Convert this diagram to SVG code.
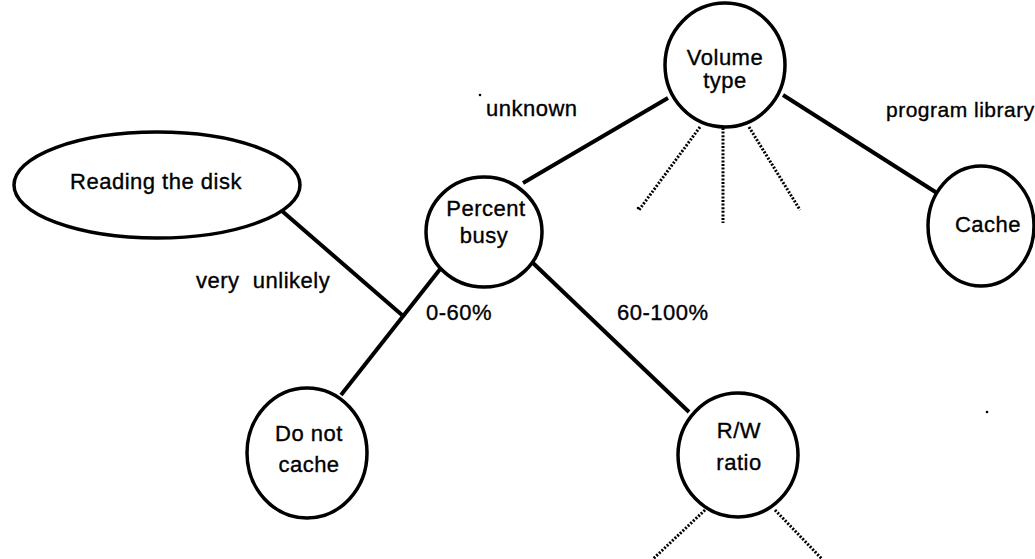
<svg xmlns="http://www.w3.org/2000/svg" width="1035" height="559" viewBox="0 0 1035 559">
<style>
  .node { fill: #fff; stroke: #000; stroke-width: 3.5; }
  .edge { stroke: #000; stroke-width: 4; fill: none; stroke-linecap: butt; }
  .dot { stroke: #000; stroke-width: 3; fill: none; stroke-dasharray: 2 1.6; }
  text { font-family: "Liberation Sans", Arial, sans-serif; font-size: 22px; fill: #000; stroke: #000; stroke-width: 0.35px; letter-spacing: 0.5px; white-space: pre; }
  .c { text-anchor: middle; }
</style>
<rect width="1035" height="559" fill="#fff"/>
<g id="connectors">
  <line class="edge" x1="668" y1="98" x2="523" y2="183"/>
  <line class="edge" x1="783" y1="95" x2="937" y2="193"/>
  <line class="edge" x1="441" y1="268" x2="341" y2="395"/>
  <line class="edge" x1="282" y1="211" x2="402" y2="315"/>
  <line class="edge" x1="533" y1="263" x2="689" y2="412"/>
  <line class="dot" x1="700" y1="127" x2="639" y2="210"/>
  <line class="dot" x1="723" y1="128" x2="723" y2="223"/>
  <line class="dot" x1="749" y1="127" x2="800" y2="210"/>
  <line class="dot" x1="705" y1="510" x2="653" y2="559"/>
  <line class="dot" x1="775" y1="510" x2="822" y2="559"/>
</g>
<g id="labels">
  <text x="486" y="116">unknown</text>
  <text x="886" y="117" style="font-size:21px">program library</text>
  <text x="196" y="288">very  unlikely</text>
  <text x="426" y="320">0-60%</text>
  <text x="617" y="320">60-100%</text>
</g>
<g id="node-volume">
  <ellipse class="node" cx="725" cy="65" rx="60" ry="62"/>
  <text class="c" x="725" y="65">Volume</text>
  <text class="c" x="725" y="88">type</text>
</g>
<g id="node-cache">
  <ellipse class="node" cx="981" cy="226" rx="53" ry="60"/>
  <text class="c" x="988" y="232">Cache</text>
</g>
<g id="node-reading">
  <ellipse class="node" cx="157" cy="185" rx="143" ry="53"/>
  <text class="c" x="156" y="189">Reading the disk</text>
</g>
<g id="node-percent">
  <ellipse class="node" cx="484" cy="232" rx="58" ry="55"/>
  <text class="c" x="486" y="216">Percent</text>
  <text class="c" x="484" y="243">busy</text>
</g>
<g id="node-donotcache">
  <ellipse class="node" cx="307" cy="453" rx="60" ry="65"/>
  <text class="c" x="309" y="441">Do not</text>
  <text class="c" x="309" y="472">cache</text>
</g>
<g id="node-rw">
  <ellipse class="node" cx="738" cy="455" rx="60" ry="62"/>
  <text class="c" x="739" y="438">R/W</text>
  <text class="c" x="739" y="470">ratio</text>
</g>
<g id="specks">
  <circle cx="480" cy="95" r="1.3"/>
  <circle cx="638" cy="208" r="1.3"/>
  <circle cx="987" cy="412" r="1.3"/>
</g>
</svg>
